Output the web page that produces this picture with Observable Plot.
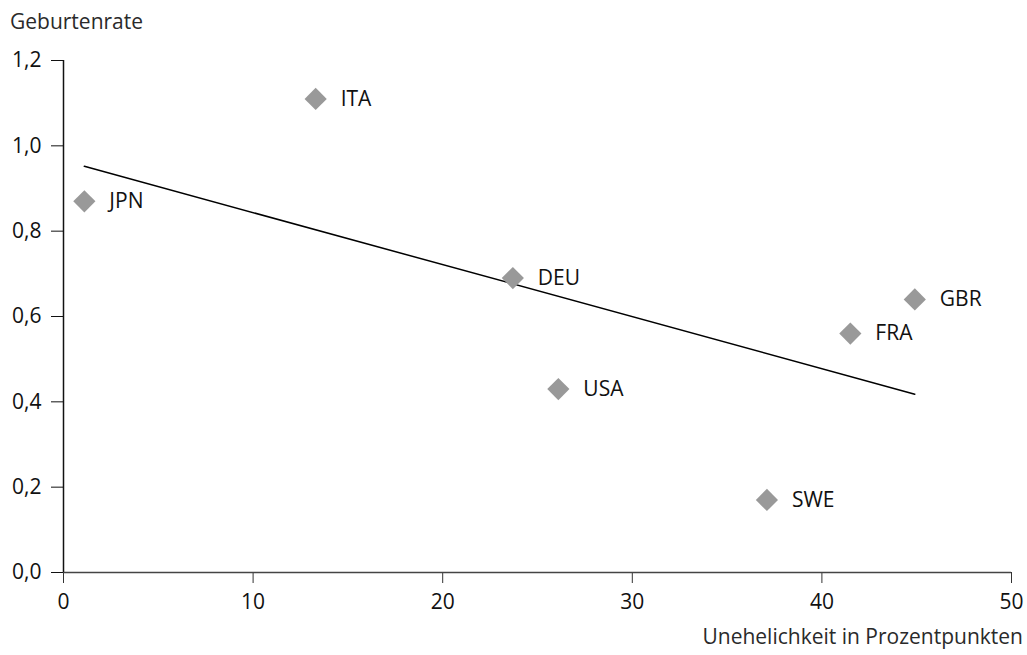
<!DOCTYPE html>
<html>
<head>
<meta charset="utf-8">
<script src="https://cdn.jsdelivr.net/npm/d3@7"></script>
<script src="https://cdn.jsdelivr.net/npm/@observablehq/plot@0.6"></script>
<style>
  body { margin: 0; background: #fff; font-family: "Open Sans", sans-serif; }
  #wrap { position: relative; width: 1027px; height: 655px; }
  #ytitle { position: absolute; left: 10px; top: 7px; font-size: 21px; color: #2a2a2a; }
  #xtitle { position: absolute; right: 4px; top: 622px; font-size: 21px; color: #2a2a2a; }
  #chart { position: absolute; left: 0; top: 0; }
  #chart svg text { font-size: 21px; }
</style>
</head>
<body>
<div id="wrap">
  <div id="chart"></div>
  <div id="ytitle">Geburtenrate</div>
  <div id="xtitle">Unehelichkeit in Prozentpunkten</div>
</div>
<script>
const countries = ["ITA", "JPN", "DEU", "GBR", "FRA", "USA", "SWE"];
const illegitimacy = [13.3, 1.1, 23.7, 44.9, 41.5, 26.1, 37.1];
const birthRate = [1.11, 0.87, 0.69, 0.64, 0.56, 0.43, 0.17];
const trendX = [1.1, 44.9];
const trendY = [0.952, 0.418];
const xTicks = [0, 10, 20, 30, 40, 50];
const yTicks = [0, 0.2, 0.4, 0.6, 0.8, 1.0, 1.2];

const points = countries.map((c, i) => ({c, x: illegitimacy[i], y: birthRate[i]}));
const trend = trendX.map((x, i) => ({x, y: trendY[i]}));
const fmt = d => d.toFixed(1).replace(".", ",");

const chart = Plot.plot({
  width: 1027,
  height: 655,
  marginLeft: 63,
  marginRight: 16,
  marginTop: 60,
  marginBottom: 83,
  style: {fontFamily: "Open Sans, sans-serif", fontSize: "21px", color: "#111", background: "#fff"},
  x: {domain: [0, 50]},
  y: {domain: [0, 1.2]},
  marks: [
    Plot.axisX({ticks: xTicks, tickSize: 11, tickPadding: 11, label: null, stroke: "#333", fill: "#111"}),
    Plot.axisY({ticks: yTicks, tickSize: 12, tickPadding: 10, tickFormat: fmt, label: null, stroke: "#111", fill: "#111"}),
    Plot.ruleY([0], {stroke: "#444", strokeWidth: 1.5}),
    Plot.ruleX([0], {stroke: "#111", strokeWidth: 1.5}),
    Plot.line(trend, {x: "x", y: "y", stroke: "#000", strokeWidth: 1.5}),
    Plot.dot(points, {x: "x", y: "y", symbol: "diamond2", r: 10, fill: "#999999", stroke: "none"}),
    Plot.text(points, {x: "x", y: "y", text: "c", dx: 25, textAnchor: "start", fill: "#111"})
  ]
});
document.getElementById("chart").appendChild(chart);
</script>
</body>
</html>
